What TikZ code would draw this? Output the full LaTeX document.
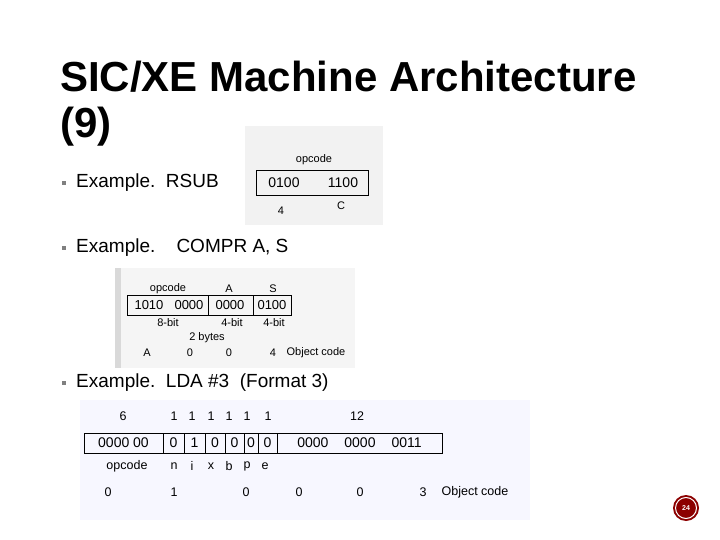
\documentclass[tikz,border=0pt]{standalone}
\usepackage{fontspec}
\setmainfont{Liberation Sans}
\begin{document}
\begin{tikzpicture}[x=1pt,y=-1pt,
  lbl/.style={inner sep=0pt,font=\fontsize{11}{11}\selectfont},
  bits/.style={inner sep=0pt,font=\fontsize{14}{14}\selectfont},
  bul/.style={anchor=west,inner sep=0pt,font=\fontsize{19}{19}\selectfont},
  sq/.style={fill=gray,minimum size=4.5pt,inner sep=0pt},
  fld/.style={draw,line width=0.8pt,inner sep=0pt,anchor=north west}]
\useasboundingbox (0,0) rectangle (720,540);
\node[anchor=base west,inner sep=0pt,font=\bfseries\fontsize{42}{42}\selectfont] (t1) at (60,92) {SIC/XE Machine Architecture};
\node[anchor=base west,inner sep=0pt,font=\bfseries\fontsize{42}{42}\selectfont] (t2) at (60,138) {(9)};
% bullets
\node[sq] (s1) at (64,183) {};
\node[sq] (s2) at (64,248) {};
\node[sq] (s3) at (64,383) {};
\node[bul] (b1) at (76,183) {Example.\ \ RSUB};
\node[bul] (b2) at (76,248) {Example.\ \ \ \ COMPR A, S};
\node[bul] (b3) at (76,383) {Example.\ \ LDA \#3\ \ (Format 3)};
% RSUB figure
\fill[black!5] (245,126) rectangle (383,225);
\node[fld,minimum width=112pt,minimum height=25pt] (r) at (256,170) {};
\node[bits] (r1) at (284,183) {0100};
\node[bits] (r2) at (343,183) {1100};
\node[lbl] (ro) at (314,160) {opcode};
\node[lbl] (r4) at (281,211) {4};
\node[lbl] (rc) at (341,206) {C};
% COMPR figure
\fill[black!4] (115,268) rectangle (355,368);
\fill[black!15] (115,268) rectangle (121,368);
\node[fld,minimum width=81pt,minimum height=20pt] (c1) at (127,295) {};
\node[fld,minimum width=45pt,minimum height=20pt] (c2) at (208,295) {};
\node[fld,minimum width=38pt,minimum height=20pt] (c3) at (253,295) {};
\node[bits,font=\fontsize{13}{13}\selectfont] at (149,305) {1010};
\node[bits,font=\fontsize{13}{13}\selectfont] at (189,305) {0000};
\node[bits,font=\fontsize{13}{13}\selectfont] at (230,305) {0000};
\node[bits,font=\fontsize{13}{13}\selectfont] at (272,305) {0100};
\node[lbl] at (168,289) {opcode};
\node[lbl] at (229,289) {A};
\node[lbl] at (273,289) {S};
\node[lbl] at (168,323) {8-bit};
\node[lbl] at (232,323) {4-bit};
\node[lbl] at (274,323) {4-bit};
\node[lbl] at (207,338) {2 bytes};
\node[lbl] at (147,353) {A};
\node[lbl] at (190,353) {0};
\node[lbl] at (229,353) {0};
\node[lbl] at (273,353) {4};
\node[lbl] at (316,353) {Object code};
% LDA figure
\fill[blue!3] (80,400) rectangle (530,520);
\foreach \a/\b/\t [count=\i] in {84/163/{0000 00},163/184/0,184/205/1,205/225/0,225/244/0,244/258/0,258/277/0,277/442/{0000\hspace{16pt}0000\hspace{16pt}0011}}{
  \node[fld,minimum width={\b-\a},minimum height=20pt] (f\i) at (\a,433) {};
  \node[bits] at ({(\a+\b)/2},443) {\t};
}
\foreach \x/\t in {123/6,174/1,192/1,211/1,229/1,247/1,268/1,357/12}
  \node[lbl,font=\fontsize{12.5}{12.5}\selectfont] at (\x,416) {\t};
\foreach \x/\t in {127/opcode,174/n,192/i,211/x,229/b,247/p,265/e}
  \node[lbl,font=\fontsize{12.5}{12.5}\selectfont] at (\x,466) {\t};
\foreach \x/\t in {108/0,174/1,246/0,299/0,360/0,423/3,475/{Object code}}
  \node[lbl,font=\fontsize{12.5}{12.5}\selectfont] at (\x,492) {\t};
% page number
\fill[red!55!black] (686,508) circle (13);
\draw[white,line width=1pt] (686,508) circle (10.5);
\node[text=white,font=\bfseries\fontsize{7}{7}\selectfont,inner sep=0pt] (pn) at (686,508) {24};
\end{tikzpicture}
\end{document}
